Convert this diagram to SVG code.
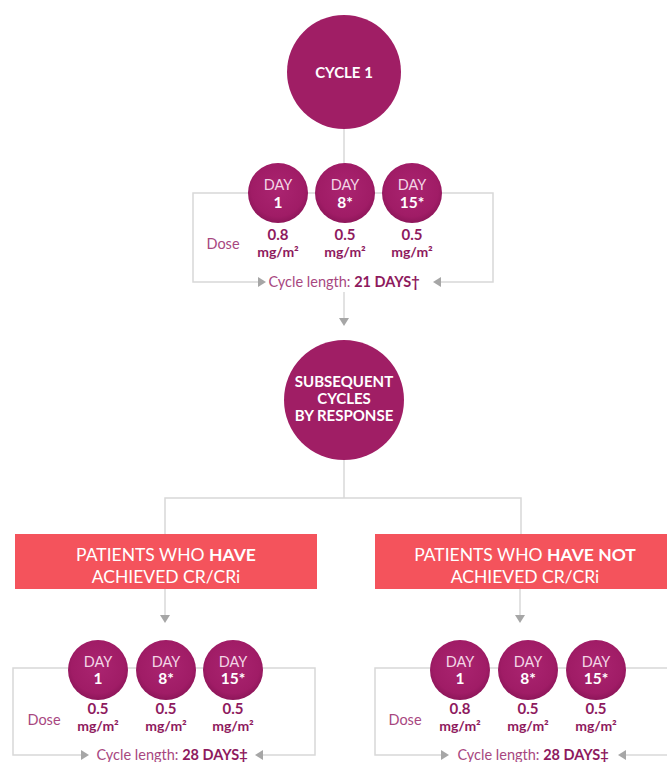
<svg xmlns="http://www.w3.org/2000/svg" width="667" height="762" viewBox="0 0 667 762">
<defs>
<radialGradient id="mg" cx="50%" cy="45%" r="55%">
<stop offset="0" stop-color="#AA2470"/>
<stop offset="0.8" stop-color="#A01C66"/>
<stop offset="1" stop-color="#8E165A"/>
</radialGradient>
<style>
.ln{stroke:#D8D8D8;stroke-width:1.5;fill:none}
.ah{fill:#A6A6A6}
.big{fill:#A01E65}
.sc{fill:url(#mg)}
.t{font-family:Lato,"Open Sans","Liberation Sans",sans-serif}
.ct{fill:#FFFFFF;font-weight:700;font-size:15px;text-anchor:middle}
.day{fill:#F3D6E6;font-size:14.5px;text-anchor:middle}
.num{fill:#FFFFFF;font-weight:700;font-size:15.5px;text-anchor:middle}
.dv{fill:#8E1A5E;font-weight:700;font-size:15px;text-anchor:middle}
.du{fill:#8E1A5E;font-weight:700;font-size:14px;text-anchor:middle}
.dose{fill:#A8477F;font-size:14.5px;text-anchor:middle}
.cyc{fill:#A8477F;font-size:14.5px;text-anchor:middle}
.cyc tspan.b{fill:#8E1A5E;font-weight:700}
.box{fill:#F4535C}
.bt{fill:#FFFFFF;font-size:17.5px;text-anchor:middle}
.bt tspan.b{font-weight:700}
</style>
</defs>

<g id="connectors">
<line class="ln" x1="344" y1="128" x2="344" y2="165"/>
<polyline class="ln" points="258,282 193,282 193,193 493,193 493,282 440,282"/>
<polygon class="ah" points="258,277 266,282 258,287"/>
<polygon class="ah" points="441,277 433,282 441,287"/>
<line class="ln" x1="344" y1="292" x2="344" y2="318"/>
<polygon class="ah" points="339,318 349,318 344,326"/>
<polyline class="ln" points="344,460 344,498"/>
<polyline class="ln" points="165,534 165,498 521,498 521,534"/>
<line class="ln" x1="165" y1="589" x2="165" y2="615"/>
<polygon class="ah" points="160,615 170,615 165,623"/>
<line class="ln" x1="520" y1="589" x2="520" y2="615"/>
<polygon class="ah" points="515,615 525,615 520,623"/>
<polyline class="ln" points="81,755 13,755 13,668 315,668 315,755 262,755"/>
<polygon class="ah" points="81,750 89,755 81,760"/>
<polygon class="ah" points="263,750 255,755 263,760"/>
<polyline class="ln" points="441,755 375,755 375,668 667,668"/>
<line class="ln" x1="625" y1="755" x2="667" y2="755"/>
<polygon class="ah" points="441,750 449,755 441,760"/>
<polygon class="ah" points="626,750 618,755 626,760"/>
</g>

<g id="cycle1">
<circle class="big" cx="344" cy="72" r="57"/>
<text class="t ct" x="344" y="78">CYCLE 1</text>
</g>

<g id="c1-day1">
<circle class="sc" cx="278" cy="193" r="30"/>
<text class="t day" x="278" y="190">DAY</text>
<text class="t num" x="278" y="208">1</text>
</g>
<g id="c1-day8">
<circle class="sc" cx="345" cy="193" r="30"/>
<text class="t day" x="345" y="190">DAY</text>
<text class="t num" x="345" y="208">8*</text>
</g>
<g id="c1-day15">
<circle class="sc" cx="412" cy="193" r="30"/>
<text class="t day" x="412" y="190">DAY</text>
<text class="t num" x="412" y="208">15*</text>
</g>
<g id="c1-dose">
<text class="t dose" x="223" y="249">Dose</text>
<text class="t dv" x="278" y="240">0.8</text>
<text class="t du" x="278" y="257">mg/m²</text>
<text class="t dv" x="345" y="240">0.5</text>
<text class="t du" x="345" y="257">mg/m²</text>
<text class="t dv" x="412" y="240">0.5</text>
<text class="t du" x="412" y="257">mg/m²</text>
<text class="t cyc" x="344" y="287">Cycle length: <tspan class="b">21 DAYS†</tspan></text>
</g>

<g id="subsequent">
<circle class="big" cx="344" cy="400" r="60"/>
<text class="t ct" x="344" y="387">SUBSEQUENT</text>
<text class="t ct" x="344" y="404">CYCLES</text>
<text class="t ct" x="344" y="421">BY RESPONSE</text>
</g>

<g id="box-have">
<rect class="box" x="15" y="534" width="302" height="55"/>
<text class="t bt" x="166" y="561">PATIENTS WHO <tspan class="b">HAVE</tspan></text>
<text class="t bt" x="166" y="583">ACHIEVED CR/CRi</text>
</g>

<g id="box-havenot">
<rect class="box" x="375" y="534" width="292" height="55"/>
<text class="t bt" x="525" y="561">PATIENTS WHO <tspan class="b">HAVE NOT</tspan></text>
<text class="t bt" x="525" y="583">ACHIEVED CR/CRi</text>
</g>

<g id="l-day1">
<circle class="sc" cx="98" cy="670" r="30"/>
<text class="t day" x="98" y="667">DAY</text>
<text class="t num" x="98" y="684">1</text>
</g>
<g id="l-day8">
<circle class="sc" cx="166" cy="670" r="30"/>
<text class="t day" x="166" y="667">DAY</text>
<text class="t num" x="166" y="684">8*</text>
</g>
<g id="l-day15">
<circle class="sc" cx="233" cy="670" r="30"/>
<text class="t day" x="233" y="667">DAY</text>
<text class="t num" x="233" y="684">15*</text>
</g>
<g id="l-dose">
<text class="t dose" x="44" y="725">Dose</text>
<text class="t dv" x="98" y="714">0.5</text>
<text class="t du" x="98" y="731">mg/m²</text>
<text class="t dv" x="166" y="714">0.5</text>
<text class="t du" x="166" y="731">mg/m²</text>
<text class="t dv" x="233" y="714">0.5</text>
<text class="t du" x="233" y="731">mg/m²</text>
<text class="t cyc" x="172" y="760">Cycle length: <tspan class="b">28 DAYS‡</tspan></text>
</g>

<g id="r-day1">
<circle class="sc" cx="460" cy="670" r="30"/>
<text class="t day" x="460" y="667">DAY</text>
<text class="t num" x="460" y="684">1</text>
</g>
<g id="r-day8">
<circle class="sc" cx="528" cy="670" r="30"/>
<text class="t day" x="528" y="667">DAY</text>
<text class="t num" x="528" y="684">8*</text>
</g>
<g id="r-day15">
<circle class="sc" cx="596" cy="670" r="30"/>
<text class="t day" x="596" y="667">DAY</text>
<text class="t num" x="596" y="684">15*</text>
</g>
<g id="r-dose">
<text class="t dose" x="405" y="725">Dose</text>
<text class="t dv" x="460" y="714">0.8</text>
<text class="t du" x="460" y="731">mg/m²</text>
<text class="t dv" x="528" y="714">0.5</text>
<text class="t du" x="528" y="731">mg/m²</text>
<text class="t dv" x="596" y="714">0.5</text>
<text class="t du" x="596" y="731">mg/m²</text>
<text class="t cyc" x="533" y="760">Cycle length: <tspan class="b">28 DAYS‡</tspan></text>
</g>
</svg>
